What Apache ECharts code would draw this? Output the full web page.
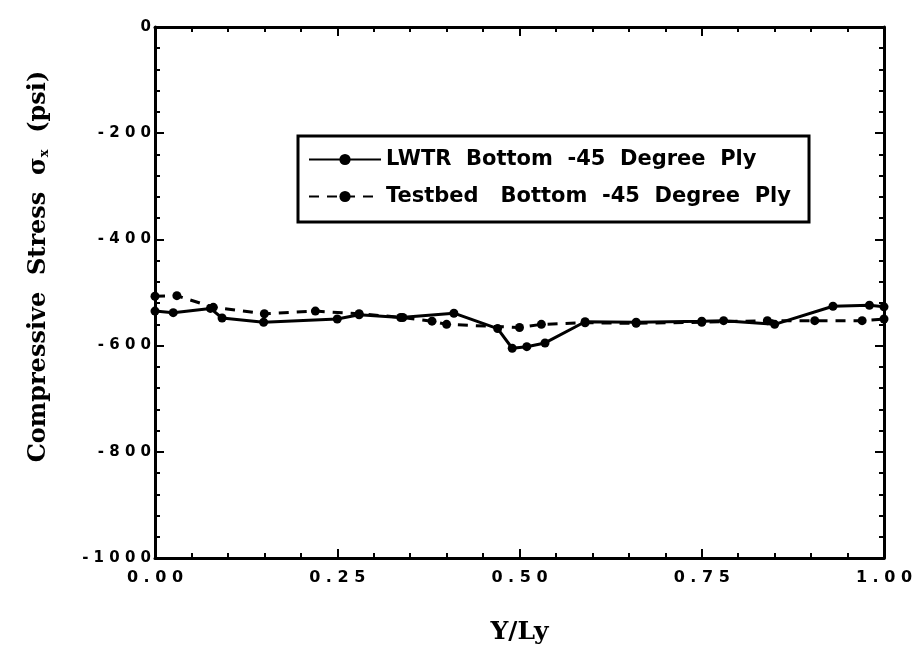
<!DOCTYPE html>
<html>
<head>
<meta charset="utf-8">
<script src="https://cdn.jsdelivr.net/npm/echarts@6/dist/echarts.min.js"></script>
<style>
  html, body { margin: 0; padding: 0; background: #fff; }
  #chart { width: 916px; height: 656px; }
</style>
</head>
<body>
<div id="chart"></div>
<script>
// Normalised position across the panel (Y/Ly)
const lwtrX = [0.00, 0.025, 0.076, 0.092, 0.149, 0.25, 0.28, 0.337, 0.41, 0.47, 0.49, 0.51, 0.535, 0.59, 0.66, 0.75, 0.78, 0.85, 0.93, 0.98, 1.00];
// LWTR bottom -45 degree ply compressive stress (psi)
const lwtrY = [-535, -538, -530, -548, -556, -550, -542, -547, -539, -568, -605, -602, -595, -555, -556, -554, -553, -560, -526, -524, -527];

const testbedX = [0.00, 0.03, 0.08, 0.15, 0.22, 0.28, 0.34, 0.38, 0.40, 0.50, 0.53, 0.59, 0.66, 0.75, 0.84, 0.905, 0.97, 1.00];
// Testbed bottom -45 degree ply compressive stress (psi)
const testbedY = [-507, -506, -528, -540, -535, -540, -547, -554, -560, -566, -560, -557, -558, -556, -553, -553, -553, -550];

const seriesNames = ['LWTR  Bottom  -45  Degree  Ply', 'Testbed   Bottom  -45  Degree  Ply'];

const xTicks = { min: 0, max: 1, interval: 0.25 };
const yTicks = { min: -1000, max: 0, interval: 200 };

const pairs = (xs, ys) => xs.map((x, i) => [x, ys[i]]);
const spaced = s => s.split('').join(' ');

const chart = echarts.init(document.getElementById('chart'), null, { renderer: 'canvas' });

const axisCommon = {
  axisLine: { show: true, onZero: false, lineStyle: { color: '#000', width: 3 } },
  axisTick: { show: true, inside: true, length: 9, lineStyle: { color: '#000', width: 2 } },
  minorTick: { show: true, splitNumber: 5, length: 5, lineStyle: { color: '#000', width: 2 } },
  splitLine: { show: false }
};

chart.setOption({
  backgroundColor: '#fff',
  animation: false,
  grid: { left: 155, right: 32, top: 27, bottom: 98 },
  legend: {
    orient: 'vertical',
    left: 298,
    top: 136,
    itemWidth: 72,
    itemHeight: 14,
    itemGap: 16,
    padding: [13, 18, 15, 10],
    backgroundColor: '#fff',
    borderColor: '#000',
    borderWidth: 3,
    textStyle: { color: '#000', fontFamily: 'DejaVu Sans', fontWeight: 'bold', fontSize: 21 },
    data: seriesNames
  },
  xAxis: [
    Object.assign({
      type: 'value',
      min: xTicks.min, max: xTicks.max, interval: xTicks.interval,
      position: 'bottom',
      name: 'Y/Ly',
      nameLocation: 'middle',
      nameGap: 62,
      nameTextStyle: { color: '#000', fontFamily: 'DejaVu Serif', fontWeight: 'bold', fontSize: 25 },
      axisLabel: {
        color: '#000', fontFamily: 'DejaVu Sans', fontWeight: 'bold', fontSize: 16, margin: 12,
        formatter: v => spaced(v.toFixed(2))
      }
    }, axisCommon),
    Object.assign({
      type: 'value',
      min: xTicks.min, max: xTicks.max, interval: xTicks.interval,
      position: 'top',
      axisLabel: { show: false }
    }, axisCommon)
  ],
  yAxis: [
    Object.assign({
      type: 'value',
      min: yTicks.min, max: yTicks.max, interval: yTicks.interval,
      position: 'left',
      name: 'Compressive  Stress  σ{sub|x}  (psi)',
      nameLocation: 'middle',
      nameGap: 104,
      nameTextStyle: {
        color: '#000', fontFamily: 'DejaVu Serif', fontWeight: 'bold', fontSize: 24,
        padding: [0, 0, 0, 52],
        rich: {
          sub: { fontFamily: 'DejaVu Serif', fontWeight: 'bold', fontSize: 13, verticalAlign: 'bottom', padding: [10, 0, 0, 0] }
        }
      },
      axisLabel: {
        color: '#000', fontFamily: 'DejaVu Sans', fontWeight: 'bold', fontSize: 15, margin: 4,
        formatter: v => spaced(String(v))
      }
    }, axisCommon),
    Object.assign({
      type: 'value',
      min: yTicks.min, max: yTicks.max, interval: yTicks.interval,
      position: 'right',
      axisLabel: { show: false }
    }, axisCommon)
  ],
  series: [
    {
      name: seriesNames[0],
      type: 'line',
      data: pairs(lwtrX, lwtrY),
      symbol: 'circle',
      symbolSize: 9,
      itemStyle: { color: '#000' },
      lineStyle: { color: '#000', width: 3, type: 'solid' },
      z: 3
    },
    {
      name: seriesNames[1],
      type: 'line',
      data: pairs(testbedX, testbedY),
      symbol: 'circle',
      symbolSize: 9,
      itemStyle: { color: '#000' },
      lineStyle: { color: '#000', width: 3, type: [10, 8] },
      z: 2
    }
  ]
});
</script>
</body>
</html>
